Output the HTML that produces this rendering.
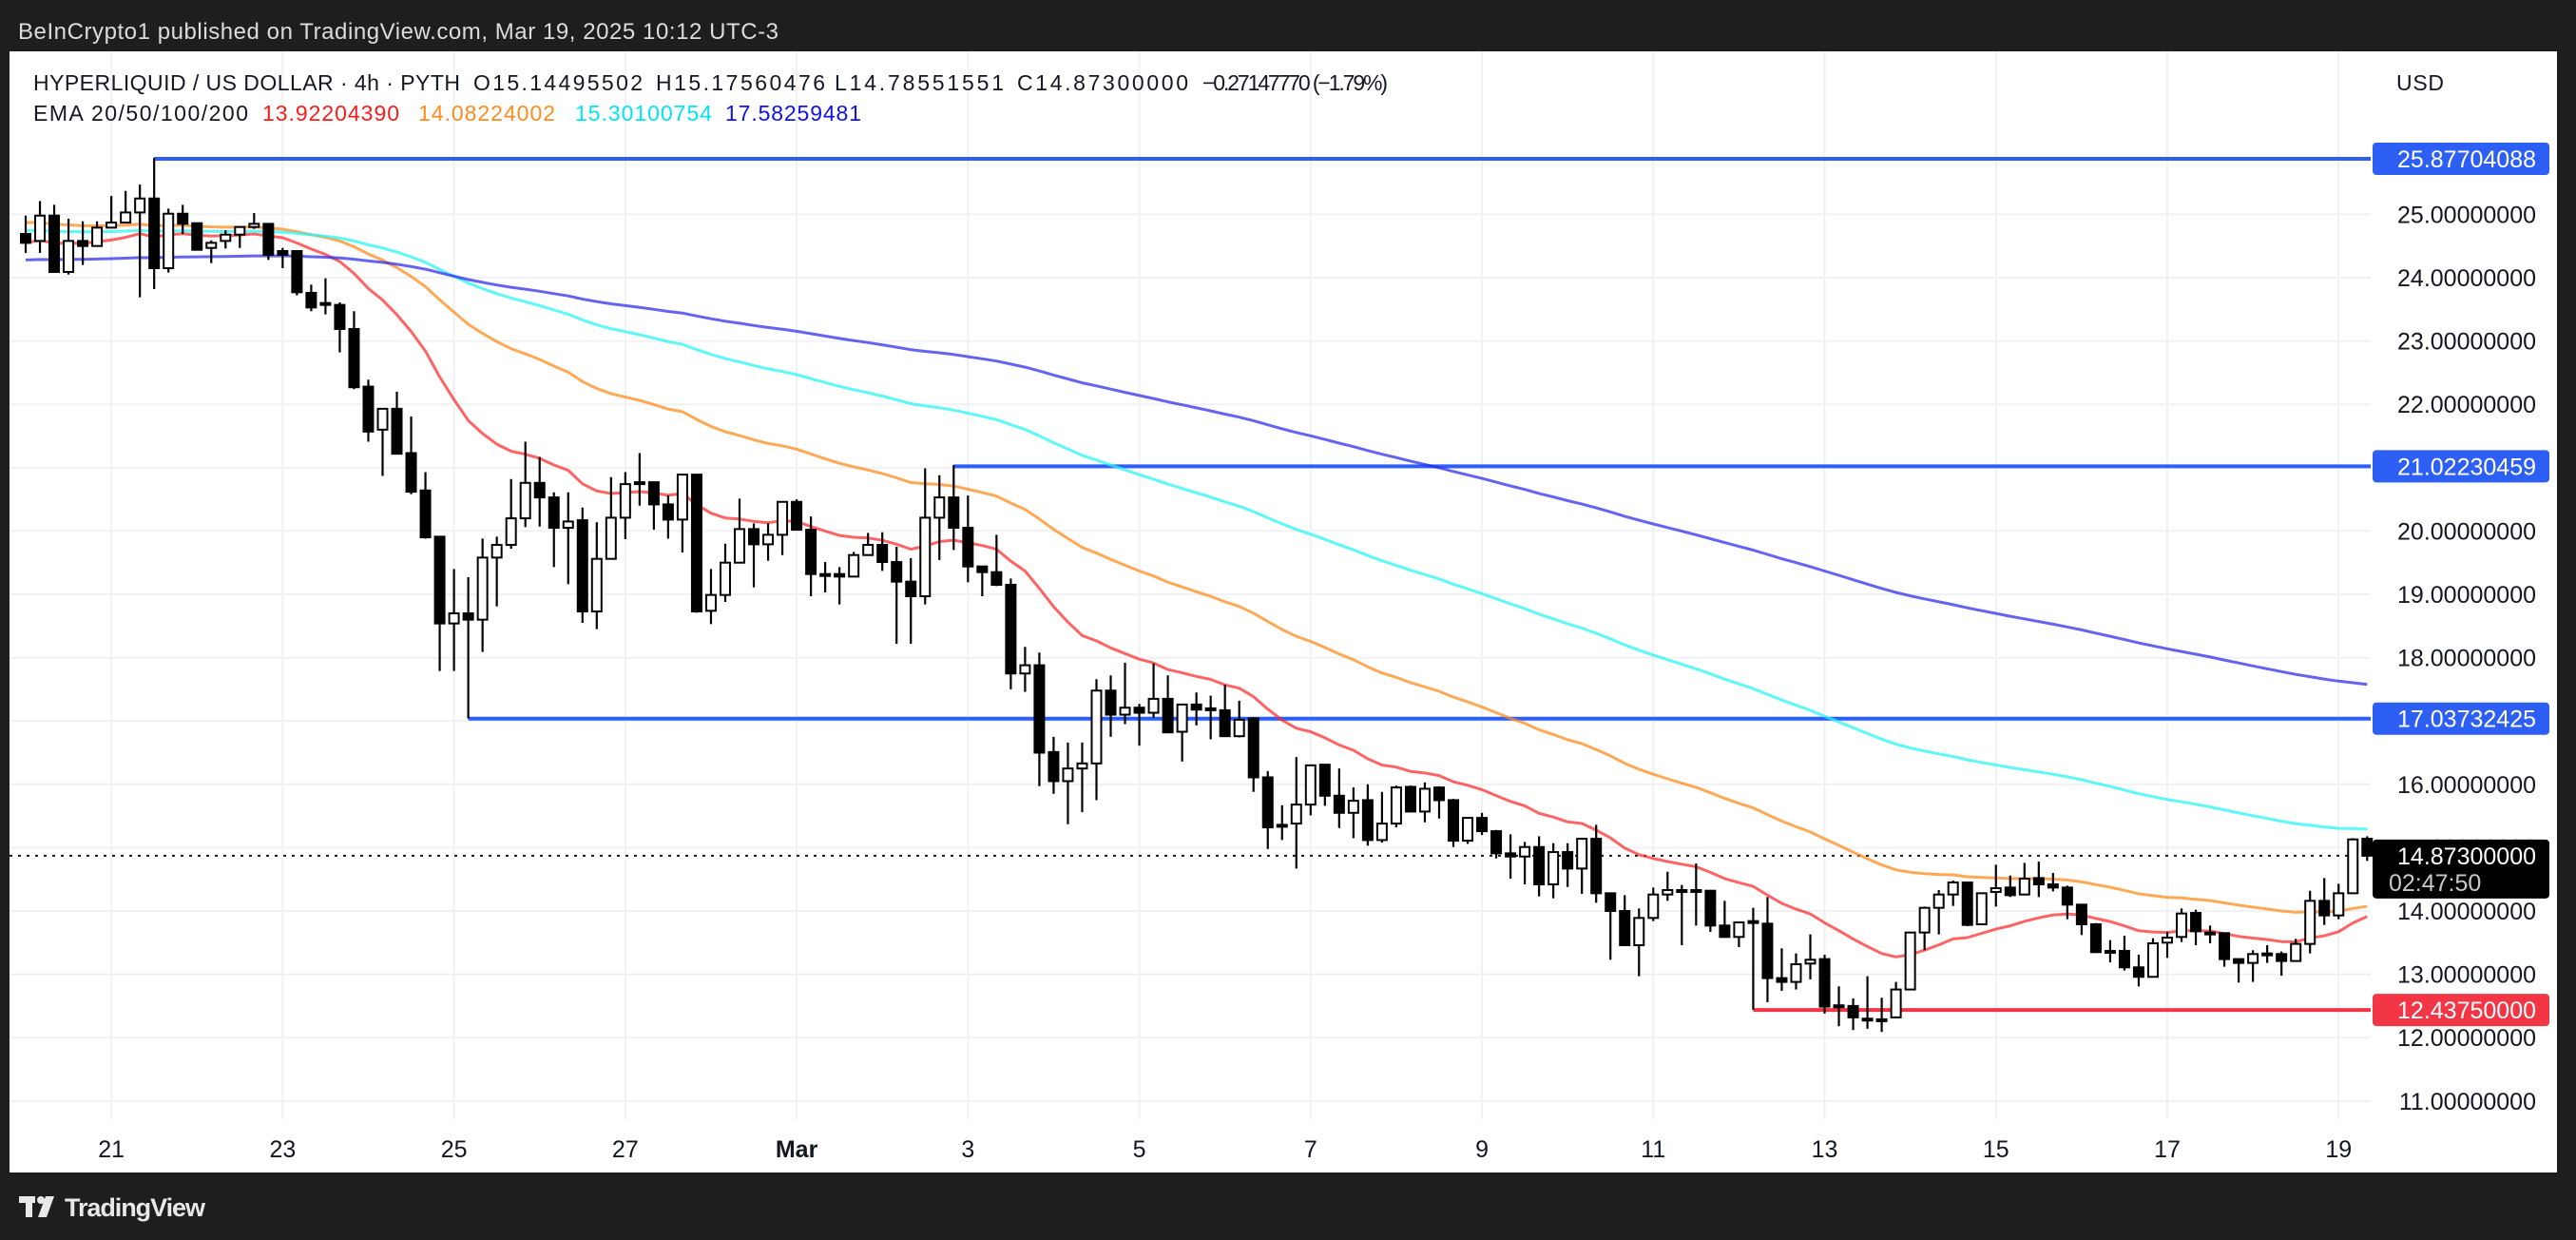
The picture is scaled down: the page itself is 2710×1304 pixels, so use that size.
<!DOCTYPE html>
<html><head><meta charset="utf-8"><style>
html,body{margin:0;padding:0;background:#1e1e1e;}
svg{display:block;font-family:"Liberation Sans",Arial,sans-serif;}
</style></head><body>
<svg id="chart" width="2710" height="1304" viewBox="0 0 2710 1304" xmlns="http://www.w3.org/2000/svg">
<rect x="0" y="0" width="2710" height="1304" fill="#1e1e1e"/>
<text x="19" y="41" font-size="24" fill="#dcdcdc" textLength="800">BeInCrypto1 published on TradingView.com, Mar 19, 2025 10:12 UTC-3</text>
<rect x="10" y="54" width="2680" height="1179" fill="#ffffff"/>
<g id="grid"></g>
<g id="hlines"></g>
<g id="emas"></g>
<g id="candles"></g>
<g id="yaxis"></g>
<g id="xaxis"></g>
<g font-size="23" fill="#131722">
<text x="35" y="95" textLength="449">HYPERLIQUID / US DOLLAR · 4h · PYTH</text>
<text x="498" y="95" textLength="178">O15.14495502</text>
<text x="690" y="95" textLength="178">H15.17560476</text>
<text x="878" y="95" textLength="178">L14.78551551</text>
<text x="1070" y="95" textLength="180">C14.87300000</text>
<text x="1265" y="95" textLength="195">−0.27147770 (−1.79%)</text>
<text x="35" y="127" textLength="226">EMA 20/50/100/200</text>
<text x="276" y="127" textLength="144" fill="#ff1a1a">13.92204390</text>
<text x="440" y="127" textLength="144" fill="#ff8c1a">14.08224002</text>
<text x="605" y="127" textLength="144" fill="#00e5f0">15.30100754</text>
<text x="763" y="127" textLength="143" fill="#1010ee">17.58259481</text>
<text x="2521" y="95" textLength="50">USD</text>
</g>
<g>
<rect x="20" y="1258" width="17" height="7" fill="#e8e8e8"/>
<rect x="27" y="1258" width="7" height="22" fill="#e8e8e8"/>
<circle cx="43" cy="1262" r="4" fill="#e8e8e8"/>
<polygon points="48,1258 57,1258 49,1280 40,1280" fill="#e8e8e8"/>
<text x="68" y="1279" font-size="27" font-weight="bold" fill="#e8e8e8" textLength="148">TradingView</text>
</g>
</svg>
<script>
const opens=[24.69,24.58,24.98,24.09,24.58,24.50,24.79,24.87,25.03,25.25,24.15,25.01,24.86,24.47,24.58,24.68,24.80,24.85,24.42,24.42,23.76,23.60,23.57,23.19,22.28,21.60,21.93,21.23,20.64,19.91,18.54,18.70,18.60,19.58,19.78,20.20,20.76,20.53,20.05,20.17,18.73,19.56,20.21,20.74,20.77,20.42,20.18,20.89,18.74,18.99,19.50,20.03,19.79,19.94,20.46,20.02,19.32,19.32,19.28,19.62,19.78,19.51,19.20,18.97,20.21,20.53,20.05,19.44,19.35,19.15,17.75,17.88,16.51,16.05,16.25,16.33,17.48,17.10,17.21,17.13,17.35,16.83,17.26,17.18,17.17,16.76,17.04,16.11,15.34,15.38,15.68,16.31,15.82,15.55,15.75,15.12,15.38,15.96,15.57,15.95,15.75,15.11,15.47,15.26,14.91,14.86,15.01,14.42,14.93,14.67,15.14,14.28,14.00,13.46,13.89,14.26,14.33,14.33,14.32,13.77,13.59,13.82,13.80,12.94,12.88,13.17,13.24,12.49,12.50,12.30,12.29,12.32,12.76,13.66,14.05,14.26,14.45,13.79,14.30,14.37,14.26,14.52,14.42,14.37,14.10,13.79,13.37,13.37,13.11,12.96,13.50,13.59,13.97,13.66,13.65,13.24,13.18,13.33,13.32,13.21,13.48,14.16,13.93,14.28,15.14];
const highs=[24.98,25.21,25.15,24.93,24.89,24.89,25.29,25.37,25.47,25.89,25.09,25.15,24.86,24.59,24.75,24.80,25.02,24.85,24.47,24.42,23.89,23.99,23.61,23.47,22.39,21.93,22.20,21.81,20.93,19.91,19.40,19.27,19.88,19.91,20.82,21.41,21.17,20.61,20.61,20.37,20.14,20.85,20.93,21.23,20.78,20.56,20.89,20.89,19.40,19.80,20.51,20.12,20.12,20.47,20.50,20.23,19.51,19.43,19.67,19.97,19.98,19.75,19.57,20.99,20.88,21.04,20.56,19.44,19.94,19.25,18.17,18.08,16.75,16.66,16.66,17.66,17.72,17.92,17.27,17.91,17.72,17.27,17.45,17.40,17.57,17.32,17.06,16.21,15.67,16.43,16.30,16.31,16.25,15.95,16.00,15.88,15.98,15.98,16.03,15.97,15.77,15.47,15.55,15.28,15.21,15.09,15.18,15.07,15.07,15.14,15.36,14.28,14.25,14.04,14.37,14.62,14.41,14.75,14.32,14.16,13.83,14.05,14.22,13.41,13.33,13.63,13.31,12.81,12.62,12.97,12.63,12.88,13.67,14.07,14.33,14.48,14.45,14.28,14.73,14.56,14.76,14.78,14.60,14.40,14.10,13.81,13.54,13.61,13.31,13.57,13.67,14.04,14.02,13.77,13.65,13.25,13.38,13.46,13.36,13.56,14.32,14.52,14.43,15.15,15.18];
const lows=[24.39,24.39,24.09,24.05,24.20,24.50,24.79,24.87,23.69,23.82,24.08,24.69,24.44,24.23,24.46,24.47,24.77,24.28,24.15,23.72,23.47,23.42,22.82,22.24,21.41,20.87,21.22,20.58,19.88,17.79,17.79,17.04,18.09,18.81,19.72,20.06,20.07,19.43,19.16,18.55,18.45,19.56,19.87,20.40,20.02,19.88,19.66,18.71,18.53,18.88,19.50,19.11,19.53,19.62,20.02,18.97,19.03,18.84,19.28,19.62,19.37,18.22,18.22,18.84,19.54,19.70,19.19,18.97,19.13,17.50,17.46,15.97,15.85,15.37,15.56,15.75,16.75,16.95,16.61,17.05,16.82,16.36,16.93,16.71,16.76,16.74,15.88,14.98,15.12,14.67,15.51,15.66,15.31,15.15,15.03,15.08,15.32,15.57,15.40,15.46,15.01,15.06,15.20,14.83,14.51,14.42,14.23,14.20,14.38,14.27,14.13,13.23,13.46,12.97,13.84,14.16,13.46,13.77,13.67,13.59,13.43,12.44,12.56,12.74,12.76,12.92,12.38,12.18,12.12,12.14,12.09,12.31,12.76,13.38,13.63,14.08,13.76,13.79,14.07,14.22,14.26,14.22,14.31,13.87,13.62,13.35,13.19,13.06,12.81,12.96,13.26,13.51,13.46,13.49,13.12,12.87,12.88,13.18,12.98,13.21,13.33,13.78,13.87,14.28,14.79];
const closes=[24.55,24.98,24.09,24.58,24.50,24.79,24.87,25.03,25.25,24.15,25.01,24.85,24.44,24.55,24.68,24.80,24.85,24.36,24.36,23.77,23.53,23.57,23.19,22.27,21.57,21.93,21.22,20.62,19.90,18.54,18.70,18.60,19.58,19.78,20.20,20.76,20.53,20.05,20.15,18.73,19.56,20.21,20.74,20.77,20.42,20.18,20.89,18.73,18.99,19.50,20.03,19.79,19.94,20.46,20.02,19.32,19.32,19.28,19.62,19.78,19.51,19.20,18.97,20.21,20.53,20.05,19.44,19.35,19.15,17.75,17.88,16.50,16.05,16.25,16.33,17.48,17.10,17.21,17.13,17.35,16.82,17.26,17.18,17.20,16.76,17.02,16.11,15.32,15.36,15.68,16.30,15.82,15.55,15.74,15.12,15.38,15.95,15.57,15.93,15.75,15.11,15.47,15.26,14.91,14.86,15.01,14.42,14.93,14.67,15.14,14.28,14.00,13.46,13.89,14.26,14.33,14.33,14.32,13.77,13.59,13.82,13.84,12.94,12.88,13.16,13.23,12.49,12.51,12.32,12.29,12.29,12.76,13.66,14.05,14.26,14.45,13.78,14.28,14.36,14.25,14.51,14.42,14.37,14.10,13.79,13.35,13.37,13.11,12.96,13.49,13.58,13.96,13.68,13.66,13.24,13.18,13.32,13.33,13.21,13.48,14.16,13.93,14.28,15.13,14.873];
const emaPeriods=[20,50,100,200];
const emaStart=[24.55,24.87,24.74,24.28];
const priceTicks=[11,12,13,14,15,16,17,18,19,20,21,22,23,24,25];
const dateTickDays=[1,3,5,7,9,11,13,15,17,19,21,23,25,27];
const dateTickLabels=["21","23","25","27","Mar","3","5","7","9","11","13","15","17","19"];
const levelValues=[25.87704088,21.02230459,17.03732425];
const levelStartIdx=[9,65,31];
const supportValue=12.4375;
const supportStartIdx=121;
const lastPrice=14.873;
const countdown="02:47:50";

const NS="http://www.w3.org/2000/svg";
const PL=10,PR=2494,PT=54,PB=1177;
function y(p){return 958-(p-14)*66.6;}
function xi(i){return 27+i*15.02;}
function xDay(d){return xi(d*6);}
function mk(tag,attrs,parent){const e=document.createElementNS(NS,tag);for(const k in attrs)e.setAttribute(k,attrs[k]);parent.appendChild(e);return e;}
const grid=document.getElementById('grid');
priceTicks.forEach(p=>{const l=mk('line',{x1:PL,x2:PR,y1:y(p),y2:y(p),stroke:'#f0f1f4','stroke-width':2},grid);

});
dateTickDays.forEach(d=>{const l=mk('line',{x1:xDay(d),x2:xDay(d),y1:PT,y2:PB,stroke:'#f0f1f4','stroke-width':2},grid);

});

// EMAs
const emaG=document.getElementById('emas');
const emaColors=['rgba(255,40,40,0.72)','rgba(255,140,30,0.75)','rgba(40,245,245,0.75)','rgba(40,40,235,0.72)'];
const emaNames=['ema20-line','ema50-line','ema100-line','ema200-line'];
emaPeriods.forEach((n,k)=>{const a=2/(n+1);let v=emaStart[k];const pts=[];
 closes.forEach((c,i)=>{if(i>0)v=v+a*(c-v);pts.push(xi(i).toFixed(1)+','+y(v).toFixed(1));});
 const pl=mk('polyline',{points:pts.join(' '),fill:'none',stroke:emaColors[k],'stroke-width':3,'stroke-linejoin':'round'},emaG);
 
 });

// levels
const hl=document.getElementById('hlines');
levelValues.forEach((v,k)=>{const l=mk('line',{x1:xi(levelStartIdx[k]),x2:PR,y1:y(v),y2:y(v),stroke:'#2e5ff5','stroke-width':4},hl);

});
const sl=mk('line',{x1:xi(supportStartIdx),x2:PR,y1:y(supportValue),y2:y(supportValue),stroke:'#f23645','stroke-width':4},hl);


const dl=mk('line',{x1:PL,x2:PR,y1:y(lastPrice),y2:y(lastPrice),stroke:'#131722','stroke-width':2,'stroke-dasharray':'3 6'},hl);



// candles
const cg=document.getElementById('candles');
closes.forEach((c,i)=>{const o=opens[i],h=highs[i],l=lows[i];const x=xi(i);const up=c>=o;
 const g=mk('g',{},cg);
 
 
 const w=mk('line',{x1:x,x2:x,y1:y(h),y2:y(l),stroke:'#000','stroke-width':2.2},g);
 
 
 const top=y(Math.max(o,c)),bot=y(Math.min(o,c));
 const r=mk('rect',{x:x-5,y:top,width:10,height:Math.max(bot-top,2),fill:up?'#fff':'#000',stroke:'#000','stroke-width':2},g);
 
 });

// y axis
const ya=document.getElementById('yaxis');
priceTicks.forEach(p=>{const t=mk('text',{x:2668,y:y(p)+9,'font-size':25,fill:'#131722','text-anchor':'end'},ya);t.textContent=p.toFixed(8);

});
function tag(v,fill,name){const r=mk('rect',{x:2496,y:y(v)-17,width:186,height:34,rx:4,fill:fill},ya);
 
 
 const t=mk('text',{x:2668,y:y(v)+9,'font-size':25,fill:'#fff','text-anchor':'end'},ya);t.textContent=v.toFixed(8);
 
 }
levelValues.forEach(v=>tag(v,'#2e5ff5','resistance-price-tag'));
tag(supportValue,'#f23645','support-price-tag');
const lb=mk('rect',{x:2496,y:y(lastPrice)-17,width:186,height:62,rx:4,fill:'#000'},ya);


const lt=mk('text',{x:2668,y:y(lastPrice)+9,'font-size':25,fill:'#fff','text-anchor':'end'},ya);lt.textContent=lastPrice.toFixed(8);


const ct=mk('text',{x:2513,y:y(lastPrice)+37,'font-size':25,fill:'#c8c8c8'},ya);ct.textContent=countdown;



// x axis
const xa=document.getElementById('xaxis');
dateTickDays.forEach((d,k)=>{const t=mk('text',{x:xDay(d),y:1217,'font-size':25,fill:'#131722','text-anchor':'middle','font-weight':dateTickLabels[k]==='Mar'?'bold':'normal'},xa);t.textContent=dateTickLabels[k];

});
</script>
</body></html>
